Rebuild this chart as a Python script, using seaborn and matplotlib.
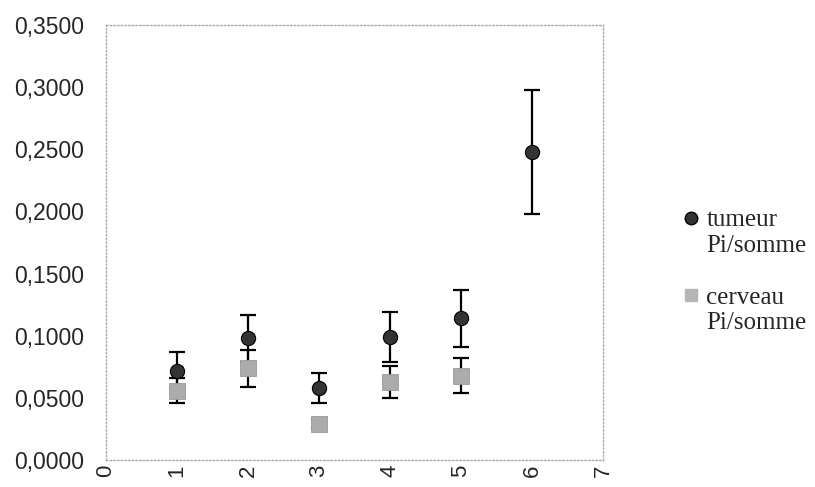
import matplotlib
matplotlib.use("Agg")
import matplotlib.pyplot as plt
import matplotlib.ticker as mticker
from matplotlib.lines import Line2D
import pandas as pd
import seaborn as sns

x_pos = [1, 2, 3, 4, 5, 6]
tumeur = [0.072, 0.098, 0.058, 0.099, 0.114, 0.248]
tumeur_err = [0.015, 0.019, 0.012, 0.020, 0.023, 0.050]
cerveau_x = [1, 2, 3, 4, 5]
cerveau = [0.056, 0.074, 0.0295, 0.063, 0.068]
cerveau_err = [0.010, 0.015, 0.004, 0.013, 0.014]

sns.set_style("white")
plt.rcParams['font.family'] = ['Liberation Sans', 'DejaVu Sans']

fig = plt.figure(figsize=(8.15, 4.87), dpi=100)
ax = fig.add_axes([0.130, 0.055, 0.610, 0.894])

df_t = pd.DataFrame({'x': x_pos, 'y': tumeur})
df_c = pd.DataFrame({'x': cerveau_x, 'y': cerveau})

# error bars first so the markers sit on top
ax.errorbar(cerveau_x, cerveau, yerr=cerveau_err, fmt='none', ecolor='black',
            elinewidth=1.6, capsize=5.5, capthick=1.6, zorder=2)
ax.errorbar(x_pos, tumeur, yerr=tumeur_err, fmt='none', ecolor='black',
            elinewidth=1.6, capsize=5.5, capthick=1.6, zorder=2)

sns.scatterplot(data=df_c, x='x', y='y', marker='s', s=120, color='#ababab',
                edgecolor='#999999', linewidth=0.6, ax=ax, zorder=3, legend=False)
sns.scatterplot(data=df_t, x='x', y='y', marker='o', s=105, color='#333333',
                edgecolor='black', linewidth=0.8, ax=ax, zorder=4, legend=False)

ax.set_xlim(0, 7)
ax.set_ylim(0, 0.35)
ax.set_xticks(range(0, 8))
ax.set_yticks([i * 0.05 for i in range(8)])
ax.yaxis.set_major_formatter(mticker.FuncFormatter(lambda v, p: f"{v:.4f}".replace('.', ',')))
ax.tick_params(axis='y', labelsize=16.5, length=0, pad=16)
ax.tick_params(axis='x', labelsize=16, length=0, pad=3, labelrotation=90)
ax.set_xlabel('')
ax.set_ylabel('')

for s in ax.spines.values():
    s.set_color('#aaaaaa')
    s.set_linestyle(':')
    s.set_linewidth(1.0)

# legend: first line carries the marker, second line and a blank row have none
blank = Line2D([], [], linestyle='none', marker='none')
h_t = Line2D([], [], linestyle='none', marker='o', markersize=9,
             markerfacecolor='#333333', markeredgecolor='black')
h_c = Line2D([], [], linestyle='none', marker='s', markersize=9,
             markerfacecolor='#b5b5b5', markeredgecolor='#b5b5b5')
handles = [h_t, blank, blank, h_c, blank]
labels = ['tumeur', 'Pi/somme', ' ', 'cerveau', 'Pi/somme']
fig.legend(handles, labels, loc='center left', bbox_to_anchor=(0.836, 0.442),
           frameon=False, handletextpad=0.2, handlelength=0.8,
           labelspacing=0.13, borderaxespad=0, borderpad=0,
           prop={'family': 'Liberation Serif', 'size': 18})

plt.savefig('out.png', dpi=100)
